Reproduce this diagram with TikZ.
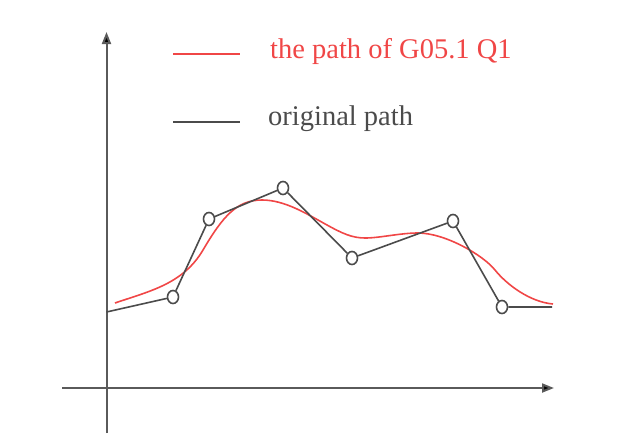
\documentclass[tikz,border=0pt]{standalone}
\usepackage{fontspec}
\setmainfont{Liberation Serif}
\usetikzlibrary{shapes.geometric,arrows.meta}
\definecolor{pathred}{RGB}{240,70,70}
\definecolor{pathgray}{RGB}{75,75,75}
\definecolor{axisgray}{RGB}{90,90,90}
\tikzset{
  axisline/.style={draw=axisgray,line width=2pt,-{Triangle[length=12pt,width=9pt,fill=black]}},
  origline/.style={draw=pathgray,line width=1.6pt},
  redline/.style={draw=pathred,line width=1.6pt},
  vtx/.style={ellipse,draw=pathgray,line width=1.6pt,fill=white,minimum width=11pt,minimum height=13pt,inner sep=0pt},
  legtext/.style={font=\fontsize{28.5}{30}\selectfont,anchor=west,inner sep=0pt}
}
\begin{document}
\begin{tikzpicture}[x=1pt,y=-1pt]
\useasboundingbox (0,0) rectangle (636,439);
% axes
\coordinate (yb) at (106.5,433);
\coordinate (yt) at (106.5,32);
\coordinate (xl) at (62,388);
\coordinate (xr) at (554,388);
\draw[axisline] (yb) -- (yt);
\draw[axisline] (xl) -- (xr);
% red path
\draw[redline] (115,303) .. controls (150,291) and (183,284) .. (203,250)
  .. controls (223,216) and (237,200) .. (262,200)
  .. controls (285,200) and (307,214) .. (327,225)
  .. controls (342,233.25) and (352,238) .. (365,238)
  .. controls (380,238) and (400,233) .. (418,233)
  .. controls (445,233) and (483,255) .. (495,270)
  .. controls (507,284.9) and (530,302) .. (553,304);
% original path
\coordinate (s) at (106.5,312);
\coordinate (e) at (552,307);
\node[vtx] (p1) at (173,297) {};
\node[vtx] (p2) at (209,219) {};
\node[vtx] (p3) at (283,188) {};
\node[vtx] (p4) at (352,258) {};
\node[vtx] (p5) at (453,221) {};
\node[vtx] (p6) at (502,307) {};
\draw[origline] (s) -- (p1) -- (p2) -- (p3) -- (p4) -- (p5) -- (p6) -- (e);
% legend
\coordinate (l1a) at (173,54);
\coordinate (l1b) at (240,54);
\coordinate (l2a) at (173,122);
\coordinate (l2b) at (240,122);
\draw[redline] (l1a) -- (l1b);
\draw[origline] (l2a) -- (l2b);
\node[legtext,text=pathred] (t1) at (270,51) {the path of G05.1 Q1};
\node[legtext,text=pathgray] (t2) at (268,119) {original path};
\end{tikzpicture}
\end{document}
